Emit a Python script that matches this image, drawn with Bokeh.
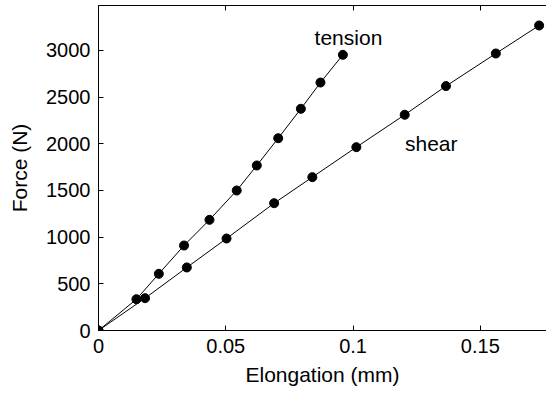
from bokeh.plotting import figure
from bokeh.models import Range1d, LinearAxis, FixedTicker, Label
from bokeh.embed import file_html
from bokeh.resources import INLINE

# Data
tension_x = [0, 0.0149, 0.0237, 0.0336, 0.0436, 0.0543, 0.0622, 0.0706, 0.0795, 0.0872, 0.0960]
tension_y = [0, 335, 607, 910, 1185, 1499, 1767, 2059, 2374, 2655, 2952]
shear_x = [0, 0.0183, 0.0347, 0.0503, 0.0690, 0.0840, 0.1013, 0.1203, 0.1365, 0.1561, 0.1731]
shear_y = [0, 346, 675, 985, 1363, 1642, 1963, 2310, 2617, 2966, 3266]
x_ticks = [0, 0.05, 0.1, 0.15]
y_ticks = [0, 500, 1000, 1500, 2000, 2500, 3000]
label_tension = ("tension", 0.0849, 3140)
label_shear = ("shear", 0.1204, 1998)

FONT = "Liberation Sans"
FS = "20px"

p = figure(width=546, height=393, output_backend="svg", toolbar_location=None,
           x_range=Range1d(0, 0.176), y_range=Range1d(0, 3480),
           min_border_left=98, min_border_right=0, min_border_top=5, min_border_bottom=63)
p.outline_line_color = None
p.grid.visible = False
p.background_fill_color = "white"
p.border_fill_color = "white"

p.line(tension_x, tension_y, line_color="black", line_width=1)
p.line(shear_x, shear_y, line_color="black", line_width=1)
p.scatter(tension_x, tension_y, size=9, color="black")
p.scatter(shear_x, shear_y, size=9, color="black")

for ax in p.xaxis:
    ax.ticker = FixedTicker(ticks=x_ticks)
    ax.major_label_overrides = {0: "0", 0.05: "0.05", 0.1: "0.1", 0.15: "0.15"}
    ax.axis_label = "Elongation (mm)"
for ax in p.yaxis:
    ax.ticker = FixedTicker(ticks=y_ticks)
    ax.axis_label = "Force (N)"

for ax in p.xaxis + p.yaxis:
    ax.major_tick_in = 5
    ax.major_tick_out = 0
    ax.minor_tick_in = 0
    ax.minor_tick_out = 0
    ax.axis_line_color = "black"
    ax.axis_line_width = 1
    ax.major_tick_line_color = "black"
    ax.major_label_text_font = FONT
    ax.major_label_text_font_size = FS
    ax.major_label_text_color = "black"
    ax.axis_label_text_font = FONT
    ax.axis_label_text_font_size = "21px"
    ax.axis_label_text_font_style = "normal"
    ax.axis_label_text_color = "black"
    ax.major_label_standoff = 8

p.xaxis.axis_label_standoff = 7
p.yaxis.axis_label_standoff = 12

top = LinearAxis(ticker=FixedTicker(ticks=x_ticks), major_tick_in=5, major_tick_out=0,
                 minor_tick_in=0, minor_tick_out=0, major_label_text_font_size="1px",
                 major_label_text_color=None, major_label_standoff=0,
                 axis_line_color="black")
p.add_layout(top, "above")

for txt, x, y in (label_tension, label_shear):
    p.add_layout(Label(x=x, y=y, text=txt, text_font=FONT, text_font_size="21px",
                       text_color="black", text_baseline="alphabetic", text_align="left"))

open("out.html", "w").write(file_html(p, INLINE))
